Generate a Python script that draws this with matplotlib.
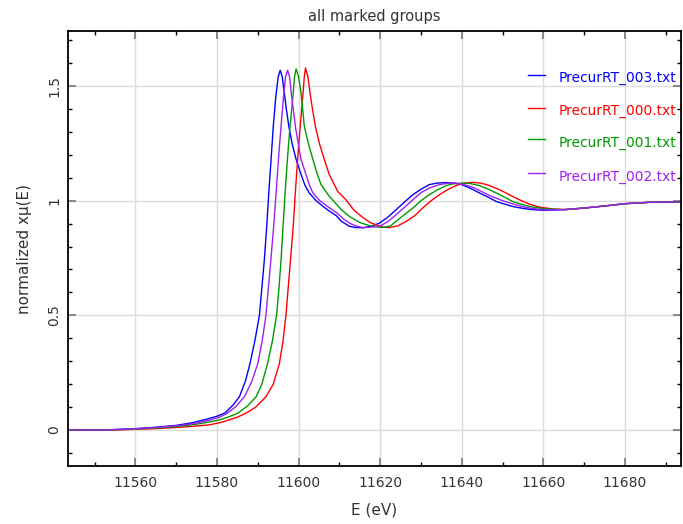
import matplotlib
matplotlib.use("Agg")
import matplotlib.pyplot as plt
from matplotlib.ticker import MultipleLocator

# normalized XANES spectra, one (energy, mu) list per group
labels = ["PrecurRT_003.txt", "PrecurRT_000.txt", "PrecurRT_001.txt", "PrecurRT_002.txt"]
colors = ["#0000ff", "#ff0000", "#009a00", "#a020f0"]

e_003 = [11543, 11552, 11556, 11560, 11565, 11570, 11574, 11577, 11580, 11582, 11584, 11585.5,
         11587, 11588.1, 11589.3, 11590.4, 11591.0, 11591.6, 11592.2, 11592.7, 11593.3, 11593.8,
         11594.4, 11595.0, 11595.5, 11596.0, 11596.5, 11597.0, 11597.6, 11598.4, 11599.4, 11600.5,
         11601.5, 11602.6, 11604.3, 11606, 11607.5, 11609.2, 11610.5, 11612.5, 11614, 11616, 11618,
         11619.8, 11622, 11623.9, 11626, 11628, 11630, 11632, 11634, 11636.2, 11638, 11640, 11642,
         11644.3, 11646.5, 11648.4, 11650.5, 11652.4, 11654.5, 11656.6, 11660, 11665, 11670, 11675,
         11680, 11686, 11694]
mu_003 = [0, 0, 0.003, 0.006, 0.012, 0.02, 0.032, 0.045, 0.06, 0.075, 0.11, 0.145,
          0.215, 0.29, 0.39, 0.50, 0.62, 0.74, 0.89, 1.035, 1.19, 1.325,
          1.45, 1.54, 1.569, 1.54, 1.47, 1.40, 1.325, 1.25, 1.18, 1.12,
          1.07, 1.034, 1.0, 0.975, 0.955, 0.935, 0.91, 0.888, 0.883, 0.882, 0.89,
          0.902, 0.93, 0.961, 0.995, 1.026, 1.05, 1.07, 1.077, 1.079, 1.077, 1.07, 1.055,
          1.034, 1.015, 0.997, 0.985, 0.975, 0.968, 0.962, 0.958, 0.961, 0.968, 0.977,
          0.987, 0.993, 0.994]

e_000 = [11543, 11555, 11560, 11565, 11570, 11574, 11578, 11581, 11583, 11585, 11587.1, 11589.5,
         11592, 11593.8, 11595.3, 11596.2, 11596.9, 11597.5, 11598.1, 11598.7, 11599.2, 11599.8,
         11600.4, 11601.0, 11601.4, 11601.7, 11602.3, 11602.8, 11603.4, 11604.1, 11605.1, 11606.3,
         11607.5, 11609.6, 11611.6, 11613.5, 11615.5, 11617.5, 11619, 11620.5, 11622.3, 11624.3,
         11626.4, 11628.5, 11630.4, 11632.5, 11634.5, 11636.5, 11638.6, 11640.5, 11642.7, 11644.8,
         11646.8, 11649.2, 11650.8, 11652.5, 11654.1, 11656.6, 11659, 11662.3, 11665.6, 11670,
         11675, 11680, 11686, 11694]
mu_000 = [0, 0, 0.003, 0.006, 0.011, 0.016, 0.022, 0.033, 0.044, 0.056, 0.073, 0.1,
          0.145, 0.2, 0.29, 0.39, 0.50, 0.63, 0.76, 0.89, 1.035, 1.19,
          1.325, 1.45, 1.54, 1.579, 1.54, 1.47, 1.40, 1.325, 1.25, 1.18,
          1.115, 1.04, 1.004, 0.96, 0.93, 0.905, 0.895, 0.886, 0.883, 0.89,
          0.91, 0.935, 0.968, 1.0, 1.026, 1.048, 1.066, 1.076, 1.08, 1.076,
          1.066, 1.048, 1.034, 1.018, 1.004, 0.985, 0.972, 0.964, 0.961, 0.968,
          0.977, 0.987, 0.993, 0.994]

e_001 = [11543, 11554, 11558, 11562, 11567, 11572, 11576, 11579, 11580.6, 11583, 11585.1, 11587.5,
         11589.6, 11591, 11592.4, 11593.6, 11594.6, 11595.2, 11595.7, 11596.2, 11596.7, 11597.3,
         11597.9, 11598.6, 11599.0, 11599.4, 11600.0, 11600.6, 11601.0, 11601.4, 11602.4, 11603.5,
         11604.5, 11605.5, 11607.5, 11609.5, 11610.5, 11612.5, 11615, 11617.4, 11620.6, 11622.5,
         11623.9, 11626, 11628, 11630, 11632, 11634, 11636.2, 11638, 11640.2, 11642, 11644.3,
         11646.5, 11648.4, 11650.5, 11652.4, 11654.5, 11656.6, 11660, 11665, 11670, 11675,
         11680, 11686, 11694]
mu_001 = [0, 0, 0.003, 0.006, 0.011, 0.018, 0.028, 0.038, 0.044, 0.058, 0.073, 0.105,
          0.145, 0.2, 0.29, 0.39, 0.50, 0.62, 0.742, 0.89, 1.035, 1.19,
          1.325, 1.45, 1.54, 1.575, 1.54, 1.47, 1.40, 1.325, 1.25, 1.18,
          1.12, 1.07, 1.02, 0.98, 0.96, 0.931, 0.905, 0.891, 0.883, 0.89,
          0.91, 0.94, 0.968, 1.0, 1.026, 1.047, 1.066, 1.074, 1.077, 1.075, 1.066,
          1.05, 1.034, 1.015, 0.997, 0.985, 0.975, 0.965, 0.961, 0.968, 0.977,
          0.987, 0.993, 0.994]

e_002 = [11543, 11553, 11557, 11561, 11566, 11571, 11575, 11578, 11580.5, 11582.5, 11584.5, 11586.7,
         11588.5, 11590, 11591.1, 11592, 11592.6, 11593.2, 11593.9, 11594.5, 11595.1, 11595.7,
         11596.3, 11596.8, 11597.3, 11597.8, 11598.2, 11598.7, 11599.2, 11599.9, 11600.6, 11601.7,
         11602.6, 11603.5, 11605.2, 11607.5, 11609.5, 11611, 11612.5, 11614, 11615.7, 11617.5,
         11619.8, 11622, 11623.9, 11626, 11628, 11630, 11632, 11634.5, 11636.5, 11638.3, 11640.5,
         11642.5, 11644.3, 11646.5, 11648.4, 11650.5, 11652.4, 11654.5, 11656.6, 11660, 11665,
         11670, 11675, 11680, 11686, 11694]
mu_002 = [0, 0, 0.003, 0.006, 0.012, 0.02, 0.03, 0.042, 0.055, 0.073, 0.1, 0.145,
          0.21, 0.29, 0.39, 0.50, 0.62, 0.74, 0.89, 1.035, 1.19, 1.325,
          1.45, 1.54, 1.569, 1.54, 1.47, 1.40, 1.325, 1.25, 1.18, 1.12,
          1.07, 1.034, 1.0, 0.97, 0.945, 0.92, 0.902, 0.89, 0.883, 0.884,
          0.888, 0.91, 0.939, 0.972, 1.004, 1.035, 1.055, 1.07, 1.076, 1.077, 1.07,
          1.06, 1.045, 1.025, 1.011, 0.997, 0.987, 0.976, 0.968, 0.96, 0.961,
          0.968, 0.977, 0.987, 0.993, 0.994]

energies = [e_003, e_000, e_001, e_002]
spectra = [mu_003, mu_000, mu_001, mu_002]

txt_color = "#333333"

fig = plt.figure(figsize=(6.83, 5.24), dpi=100)
ax = fig.add_axes([0.0996, 0.1107, 0.8974, 0.8301])

for e, mu, c in zip(energies, spectra, colors):
    ax.plot(e, mu, color=c, lw=1.0)

ax.set_xlim(11543.5, 11693.7)
ax.set_ylim(-0.157, 1.74)

ax.xaxis.set_major_locator(MultipleLocator(20))
ax.xaxis.set_minor_locator(MultipleLocator(10))
ax.yaxis.set_minor_locator(MultipleLocator(0.1))
ax.set_yticks([0, 0.5, 1, 1.5])
ax.set_yticklabels(["0", "0.5", "1", "1.5"], rotation=90, va="center")

ax.tick_params(which="both", direction="in", top=True, right=True,
               labelcolor=txt_color, labelsize=10)
ax.tick_params(which="major", length=5.5, width=1.2, color="#777777")
ax.tick_params(which="minor", length=3, width=1, color="black")
ax.tick_params(axis="x", which="major", pad=7)
ax.tick_params(axis="y", which="major", pad=5)
ax.grid(True, which="major", color="#dcdcdc", lw=1)
ax.set_axisbelow(True)
for sp in ax.spines.values():
    sp.set_linewidth(1.3)

ax.set_title("all marked groups", fontsize=10.5, color=txt_color, pad=7)
ax.set_xlabel("E (eV)", fontsize=11, color=txt_color, labelpad=9)
ax.set_ylabel("normalized xμ(E)", fontsize=11, color=txt_color, labelpad=11)

# legend drawn by hand at the right edge
leg_y = [0.900, 0.824, 0.751, 0.673]
for lab, c, y in zip(labels, colors, leg_y):
    ax.plot([0.750, 0.778], [y, y], color=c, lw=1.0, transform=ax.transAxes)
    ax.text(0.801, y - 0.008, lab, color=c, fontsize=9.9, va="center", ha="left",
            transform=ax.transAxes, clip_on=False)

fig.savefig("out.png", dpi=100)
